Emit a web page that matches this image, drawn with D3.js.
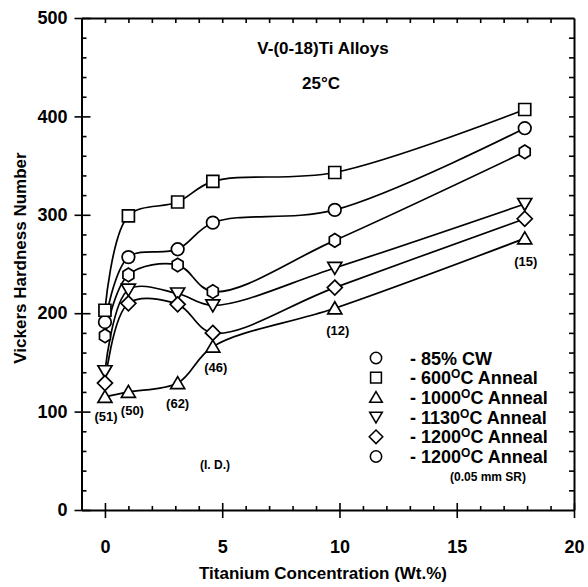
<!DOCTYPE html>
<html>
<head>
<meta charset="utf-8">
<script src="https://cdn.jsdelivr.net/npm/d3@7"></script>
<style>
  html, body { margin: 0; padding: 0; background: #fff; }
  svg { display: block; }
  text { font-family: "Liberation Sans", Arial, sans-serif; font-weight: bold; fill: #000; }
</style>
</head>
<body>
<svg id="chart" width="588" height="587"></svg>
<script>
// Titanium content of each alloy (wt.%)
const titanium = [0, 1, 3.1, 4.6, 9.8, 17.9];

// Vickers hardness for each condition
const cw85      = [191, 257, 265, 292, 305, 388];
const anneal600 = [203, 299, 313, 334, 343, 407];
const anneal1000 = [115, 120, 129, 166, 205, 276];
const anneal1130 = [141, 224, 220, 208, 246, 311];
const anneal1200 = [129, 210, 209, 180, 226, 296];
const anneal1200SR = [177, 239, 249, 222, 274, 364];

// Grain-size notes on the 1000°C curve
const notes = [
  { x: 0, v: 115, text: "(51)", dx: 1, dy: 24 },
  { x: 1, v: 120, text: "(50)", dx: 4, dy: 23 },
  { x: 3.1, v: 129, text: "(62)", dx: 0, dy: 25 },
  { x: 4.6, v: 166, text: "(46)", dx: 3, dy: 25 },
  { x: 9.8, v: 205, text: "(12)", dx: 3, dy: 27 },
  { x: 17.9, v: 276, text: "(15)", dx: 1, dy: 28 }
];

const xTicks = [0, 5, 10, 15, 20];
const yTicks = [0, 100, 200, 300, 400, 500];

const series = [
  { label: "85% CW", sup: null, rest: null, values: cw85, shape: "circle" },
  { label: "600", sup: "O", rest: "C Anneal", values: anneal600, shape: "square" },
  { label: "1000", sup: "O", rest: "C Anneal", values: anneal1000, shape: "tri-up" },
  { label: "1130", sup: "O", rest: "C Anneal", values: anneal1130, shape: "tri-down" },
  { label: "1200", sup: "O", rest: "C Anneal", values: anneal1200, shape: "diamond" },
  { label: "1200", sup: "O", rest: "C Anneal", values: anneal1200SR, shape: "hexagon" }
];

const svg = d3.select("#chart");
svg.append("rect").attr("width", 588).attr("height", 587).attr("fill", "#fff");

const x = d3.scaleLinear().domain([-1, 20]).range([81.5, 574]);
const y = d3.scaleLinear().domain([0, 500]).range([510, 18]);

const x0 = x.range()[0], x1 = x.range()[1];
const y0 = y.range()[0], y1 = y.range()[1];

const xMinor = d3.range(-1, 20, 1).filter(v => v % 5 !== 0);
const xAll = d3.range(0, 20, 1);
const yMinor = d3.range(20, 500, 20).filter(v => v % 100 !== 0);
const yAll = d3.range(20, 500, 20);

function styleAxis(g, showDomain) {
  g.selectAll(".tick line").attr("stroke", "#000").attr("stroke-width", 1.6);
  g.select(".domain").attr("stroke", showDomain ? "#000" : "none").attr("stroke-width", 2);
}
function styleLabels(g) {
  g.selectAll("text")
    .style("font-size", "18px")
    .style("font-family", "'Liberation Sans', Arial, sans-serif")
    .style("font-weight", "bold");
}

// bottom axis: major ticks crossing the line, labels below
const gb = svg.append("g").attr("transform", `translate(0,${y0})`)
  .call(d3.axisBottom(x).tickValues(xTicks).tickSize(8).tickSizeOuter(0).tickPadding(22));
styleAxis(gb, true);
styleLabels(gb);
const gbIn = svg.append("g").attr("transform", `translate(0,${y0})`)
  .call(d3.axisTop(x).tickValues(xTicks).tickSize(7).tickSizeOuter(0).tickFormat(""));
styleAxis(gbIn, false);
const gbMinor = svg.append("g").attr("transform", `translate(0,${y0})`)
  .call(d3.axisTop(x).tickValues(xMinor).tickSize(4).tickSizeOuter(0).tickFormat(""));
styleAxis(gbMinor, false);

// left axis
const gl = svg.append("g").attr("transform", `translate(${x0},0)`)
  .call(d3.axisLeft(y).tickValues(yTicks).tickSize(7).tickSizeOuter(0).tickPadding(7));
styleAxis(gl, true);
styleLabels(gl);
const glIn = svg.append("g").attr("transform", `translate(${x0},0)`)
  .call(d3.axisRight(y).tickValues(yTicks).tickSize(9).tickSizeOuter(0).tickFormat(""));
styleAxis(glIn, false);
const glMinor = svg.append("g").attr("transform", `translate(${x0},0)`)
  .call(d3.axisRight(y).tickValues(yMinor).tickSize(5).tickSizeOuter(0).tickFormat(""));
styleAxis(glMinor, false);

// top and right frame with inward ticks
const gt = svg.append("g").attr("transform", `translate(0,${y1})`)
  .call(d3.axisBottom(x).tickValues(xAll).tickSize(5).tickSizeOuter(0).tickFormat(""));
styleAxis(gt, true);
const gr = svg.append("g").attr("transform", `translate(${x1},0)`)
  .call(d3.axisLeft(y).tickValues(yAll).tickSize(5).tickSizeOuter(0).tickFormat(""));
styleAxis(gr, true);

// axis titles
svg.append("text")
  .attr("transform", `translate(26,${(y0 + y1) / 2 - 6}) rotate(-90)`)
  .attr("text-anchor", "middle")
  .style("font-size", "17px")
  .text("Vickers Hardness Number");
svg.append("text")
  .attr("x", 323).attr("y", 579)
  .attr("text-anchor", "middle")
  .style("font-size", "17px")
  .text("Titanium Concentration (Wt.%)");

// chart title
svg.append("text").attr("x", 323).attr("y", 54).attr("text-anchor", "middle")
  .style("font-size", "17px").text("V-(0-18)Ti Alloys");
svg.append("text").attr("x", 321).attr("y", 89).attr("text-anchor", "middle")
  .style("font-size", "17px").text("25°C");

// curves
const line = d3.line()
  .x(d => x(d[0]))
  .y(d => y(d[1]))
  .curve(d3.curveCatmullRom.alpha(0.5));

series.forEach(s => {
  svg.append("path")
    .attr("d", line(titanium.map((t, i) => [t, s.values[i]])))
    .attr("fill", "none")
    .attr("stroke", "#000")
    .attr("stroke-width", 1.7);
});

// marker shapes
function markerPath(shape) {
  switch (shape) {
    case "square": return "M-6,-6H6V6H-6Z";
    case "tri-up": return "M0,-6.5L7,5.5H-7Z";
    case "tri-down": return "M0,6.5L7,-5.5H-7Z";
    case "diamond": return "M0,-7.5L7.5,0L0,7.5L-7.5,0Z";
    case "hexagon": {
      const pts = d3.range(6).map(i => {
        const a = Math.PI / 2 + i * Math.PI / 3;
        return [6.3 * Math.cos(a), 6.8 * Math.sin(a)];
      });
      return "M" + pts.map(p => p.join(",")).join("L") + "Z";
    }
    default: return null;
  }
}

function drawMarker(g, shape) {
  if (shape === "circle") {
    g.append("circle").attr("r", 6.3)
      .attr("fill", "#fff").attr("stroke", "#000").attr("stroke-width", 1.7);
  } else {
    g.append("path").attr("d", markerPath(shape))
      .attr("fill", "#fff").attr("stroke", "#000").attr("stroke-width", 1.7)
      .attr("stroke-linejoin", "miter");
  }
}

series.forEach(s => {
  titanium.forEach((t, i) => {
    const g = svg.append("g").attr("transform", `translate(${x(t)},${y(s.values[i])})`);
    drawMarker(g, s.shape);
  });
});

// value notes
notes.forEach(n => {
  svg.append("text")
    .attr("x", x(n.x) + n.dx).attr("y", y(n.v) + n.dy)
    .attr("text-anchor", "middle")
    .style("font-size", "13px")
    .text(n.text);
});
svg.append("text").attr("x", 215).attr("y", 469).attr("text-anchor", "middle")
  .style("font-size", "12px").text("(I. D.)");

// legend
const legend = svg.append("g").attr("transform", "translate(376,358)");
const rowH = 19.7;
series.forEach((s, i) => {
  const row = legend.append("g").attr("transform", `translate(0,${i * rowH})`);
  const m = row.append("g").attr("transform", "scale(0.9)");
  drawMarker(m, s.shape === "hexagon" ? "circle" : s.shape);
  const t = row.append("text").attr("x", 34).attr("y", 6.5).style("font-size", "18px");
  t.append("tspan").text("- " + s.label);
  if (s.sup) {
    t.append("tspan").attr("dy", -6).style("font-size", "12px").text(s.sup);
    t.append("tspan").attr("dy", 6).text(s.rest);
  }
});
legend.append("text").attr("x", 112).attr("y", 6 + 6 * rowH - 1)
  .attr("text-anchor", "middle").style("font-size", "12px").text("(0.05 mm SR)");
</script>
</body>
</html>
